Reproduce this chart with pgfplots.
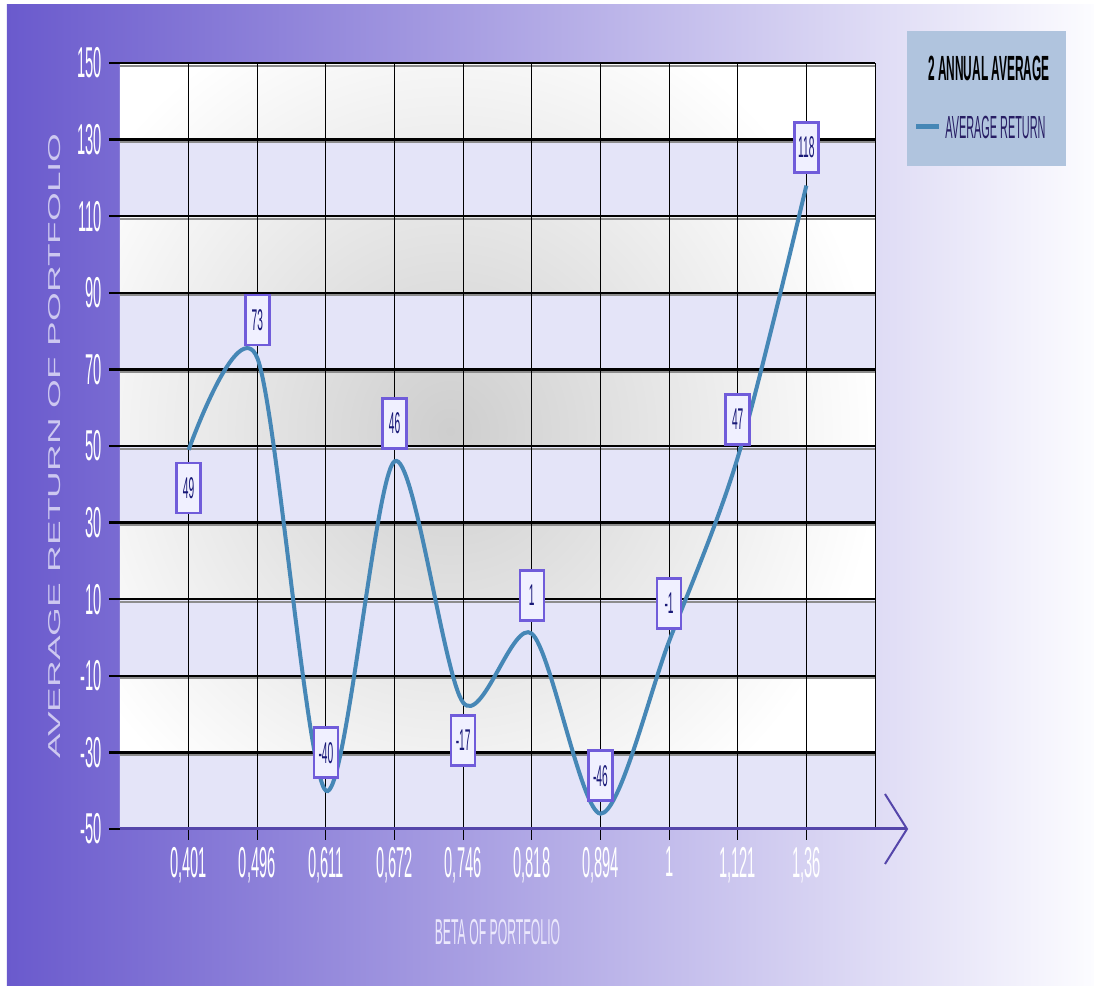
\documentclass[border=0pt]{standalone}
\usepackage{pgfplots}
\pgfplotsset{compat=1.18}
\usepackage{pgfplotstable}
\usepackage{fontspec}
\setmainfont{Liberation Sans}
\newfontfamily\cf{Liberation Sans}[FakeStretch=0.34]
\newfontfamily\yf{Liberation Sans}[FakeStretch=2.15]
\definecolor{bgL}{RGB}{106,90,205}
\definecolor{bgR}{RGB}{252,252,255}
\definecolor{band}{RGB}{228,228,248}
\definecolor{shadeC}{RGB}{206,206,206}
\definecolor{lineC}{RGB}{70,135,182}
\definecolor{boxB}{RGB}{112,92,218}
\definecolor{boxF}{RGB}{240,240,255}
\definecolor{navy}{RGB}{25,25,120}
\definecolor{axc}{RGB}{85,70,170}
\definecolor{legF}{RGB}{176,196,222}
\definecolor{legT}{RGB}{40,30,100}
\definecolor{ylab}{RGB}{205,200,240}
\definecolor{xlab}{RGB}{235,232,252}
\pgfdeclareradialshading{gshade}{\pgfpoint{0bp}{0bp}}{color(0bp)=(shadeC); color(25bp)=(white); color(50bp)=(white)}

\pgfplotstableread{
x y pos lab
0 49 -1 49
1 73 1 73
2 -40 1 -40
3 46 1 46
4 -17 -1 -17
5 1 1 1
6 -46 1 -46
7 -1 1 -1
8 47 1 47
9 118 1 118
}\datatab

\begin{document}
\begin{tikzpicture}
\begin{axis}[
  set layers,
  scale only axis, width=377.5pt, height=383pt,
  xmin=-1, xmax=10, ymin=-50, ymax=150,
  clip=false,
  axis line style={draw=none},
  xtick={0,...,9},
  xticklabels={{0,401},{0,496},{0,611},{0,672},{0,746},{0,818},{0,894},{1},{1,121},{1,36}},
  ytick={-50,-30,...,150},
  yticklabels={-50,-30,-10,10,30,50,70,90,110,130,150},
  xtick pos=lower, ytick pos=left,
  grid=major,
  major x grid style={black, line width=0.5pt},
  major y grid style={black, line width=1.2pt},
  tick align=outside,
  major tick length=5.5pt,
  x tick style={black, line width=0.5pt},
  y tick style={black, line width=1.2pt},
  ticklabel style={font=\cf\fontsize{21.6}{22}\selectfont, text=white},
  xlabel={BETA OF PORTFOLIO},
  xlabel style={at={([yshift=-51.5pt]axis description cs:0.5,0)}, anchor=center, font=\cf\fontsize{18}{18}\selectfont, text=xlab},
  ylabel={AVERAGE RETURN OF PORTFOLIO},
  ylabel style={at={([xshift=-32.5pt]axis description cs:0,0.5)}, anchor=center, font=\yf\fontsize{8.6}{9}\selectfont, text=ylab},
]
\begin{pgfonlayer}{axis background}
  \fill[white] ([shift={(-60pt,-78.5pt)}]rel axis cs:0,0) rectangle ([shift={(109.5pt,31.5pt)}]rel axis cs:1,1);
  \shade[left color=bgL, right color=bgR] ([shift={(-56.5pt,-78.5pt)}]rel axis cs:0,0) rectangle ([shift={(109.5pt,29pt)}]rel axis cs:1,1);
  \fill[white] (rel axis cs:0,0) rectangle (rel axis cs:1,1);
  \begin{scope}
    \clip (rel axis cs:0,0) rectangle (rel axis cs:1,1);
    \shade[shading=gshade] (axis cs:-2.46,-63.6) rectangle (axis cs:10.08,171.4);
  \end{scope}
  \fill[band] (axis cs:-1,110) rectangle (axis cs:10,130);
  \fill[band] (axis cs:-1,70) rectangle (axis cs:10,90);
  \fill[band] (axis cs:-1,30) rectangle (axis cs:10,50);
  \fill[band] (axis cs:-1,-10) rectangle (axis cs:10,10);
  \fill[band] (axis cs:-1,-50) rectangle (axis cs:10,-30);
  \pgfplotsinvokeforeach{-30,-10,10,30,50,70,90,110,130,150}{
    \draw[black!45, line width=1pt] ([yshift=-1.3pt]axis cs:-1,#1) -- ([yshift=-1.3pt]axis cs:10,#1);
  }
\end{pgfonlayer}
\begin{pgfonlayer}{axis grid}
  \draw[black, line width=0.5pt] (axis cs:10,-50) -- (axis cs:10,150);
\end{pgfonlayer}
\coordinate (LL) at (rel axis cs:0,0);
\coordinate (UR) at (rel axis cs:1,1);

\addplot[lineC, line width=2pt, smooth, mark=none,
  point meta=explicit symbolic,
  visualization depends on={\thisrow{pos} \as \lpos},
  nodes near coords={\pgfplotspointmeta},
  every node near coord/.append style={anchor=center, yshift={\lpos*19pt},
    draw=boxB, fill=boxF, line width=1.3pt, inner sep=0pt,
    minimum width=12pt, minimum height=25pt, text=navy,
    font=\cf\fontsize{15}{15}\selectfont},
] table[x=x, y=y, meta=lab] {\datatab};

% x axis line with open arrow head
\draw[axc, line width=1.5pt] (axis cs:-1,-50) -- ([shift={(15.5pt,0pt)}]axis cs:10,-50);
\draw[axc, line width=1pt] ([shift={(5pt,17.5pt)}]axis cs:10,-50) -- ([shift={(16pt,0pt)}]axis cs:10,-50) -- ([shift={(5pt,-17.5pt)}]axis cs:10,-50);

% legend
\fill[legF] ([shift={(16pt,16pt)}]rel axis cs:1,1) rectangle ([shift={(95.5pt,-51.5pt)}]rel axis cs:1,1);
\node[anchor=east, inner sep=0pt, font=\cf\bfseries\fontsize{17.5}{18}\selectfont, text=black] at ([shift={(87.5pt,-2.5pt)}]rel axis cs:1,1) {2 ANNUAL AVERAGE};
\draw[lineC, line width=2.5pt] ([shift={(20.5pt,-32pt)}]rel axis cs:1,1) -- ++(11.5pt,0pt);
\node[anchor=west, inner sep=0pt, font=\cf\fontsize{16}{16}\selectfont, text=legT] at ([shift={(35pt,-32pt)}]rel axis cs:1,1) {AVERAGE RETURN};
\end{axis}
\pgfresetboundingbox
\path[use as bounding box] ([shift={(-60pt,-78.5pt)}]LL) rectangle ([shift={(109.5pt,31.5pt)}]UR);
\end{tikzpicture}
\end{document}
